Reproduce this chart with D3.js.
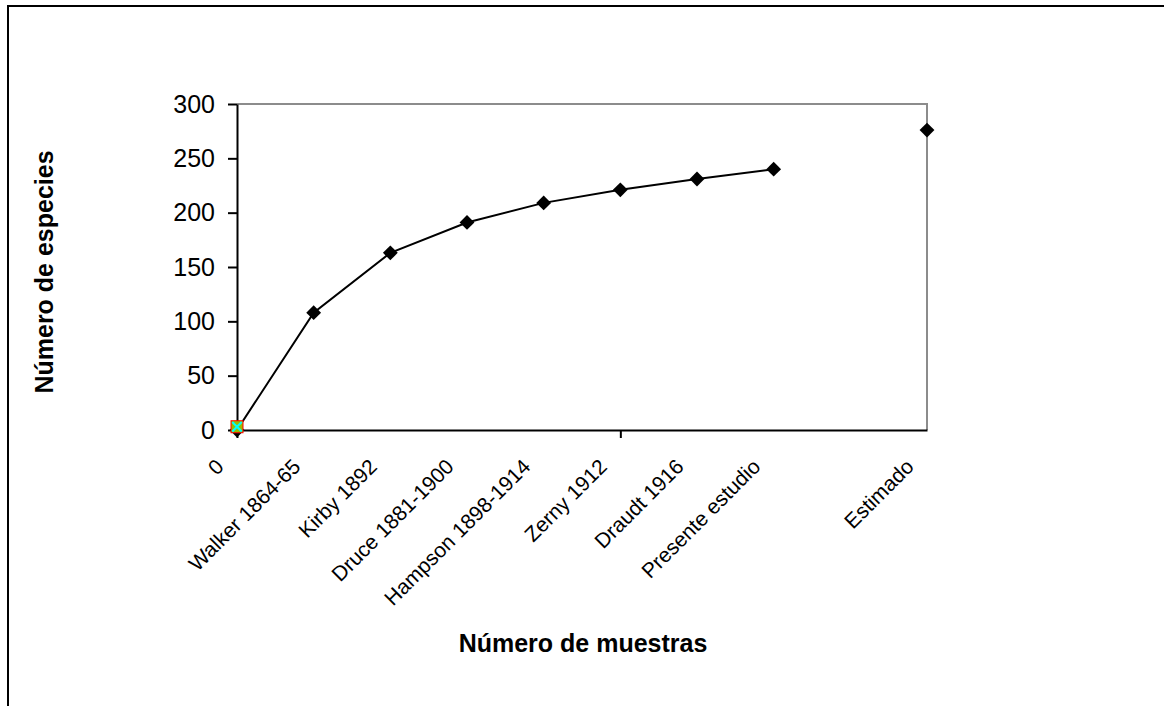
<!DOCTYPE html>
<html>
<head>
<meta charset="utf-8">
<script src="https://cdn.jsdelivr.net/npm/d3@7"></script>
<style>
  html, body { margin: 0; padding: 0; background: #fff; }
  svg { display: block; font-family: "Liberation Sans", Arial, sans-serif; }
</style>
</head>
<body>
<svg id="chart" width="1164" height="706"></svg>
<script>
// ---------------------------------------------------------
// Curva de acumulación de especies
// ---------------------------------------------------------

// categories along the x axis (numeric position + label)
const xPositions = [0, 1, 2, 3, 4, 5, 6, 7, 9];
const xLabels = ["0", "Walker 1864-65", "Kirby 1892", "Druce 1881-1900",
  "Hampson 1898-1914", "Zerny 1912", "Draudt 1916", "Presente estudio", "Estimado"];

// main series (connected)
const seriesX = [0, 1, 2, 3, 4, 5, 6, 7];
const seriesY = [0, 108, 163, 191, 209, 221, 231, 240];

// estimate (single marker)
const estX = [9];
const estY = [276];

// other series only drawn at the origin
const squareX = [0];
const squareY = [3];
const crossX = [0];
const crossY = [3];

const yTicks = [0, 50, 100, 150, 200, 250, 300];

const svg = d3.select("#chart");

// outer chart frame (runs past the picture edges)
svg.append("rect")
  .attr("x", 8).attr("y", 6)
  .attr("width", 1200).attr("height", 760)
  .attr("fill", "none")
  .attr("stroke", "#000")
  .attr("stroke-width", 2);

const plot = { left: 237, right: 927, top: 104, bottom: 430 };

const x = d3.scaleLinear().domain([0, 9]).range([plot.left, plot.right]);
const y = d3.scaleLinear().domain([0, 300]).range([plot.bottom, plot.top]);

// plot area border (grey top/right)
svg.append("path")
  .attr("d", `M${plot.left},${plot.top}H${plot.right}V${plot.bottom}`)
  .attr("fill", "none")
  .attr("stroke", "#8c8c8c")
  .attr("stroke-width", 2);

// y axis
const yAxis = svg.append("g")
  .attr("transform", `translate(${plot.left},0)`)
  .call(d3.axisLeft(y).tickValues(yTicks).tickSize(9).tickSizeOuter(0).tickPadding(13));
yAxis.select(".domain").attr("stroke", "#000").attr("stroke-width", 2);
yAxis.selectAll(".tick line").attr("stroke", "#000").attr("stroke-width", 2);
yAxis.selectAll("text")
  .style("font-size", "25px")
  .style("font-family", "Liberation Sans, Arial, sans-serif")
  .attr("fill", "#000");

// x axis
const xAxis = svg.append("g")
  .attr("transform", `translate(0,${plot.bottom})`)
  .call(d3.axisBottom(x).tickValues([0, 5]).tickFormat("").tickSize(8).tickSizeOuter(0));
xAxis.select(".domain").attr("stroke", "#000").attr("stroke-width", 2);
xAxis.selectAll(".tick line").attr("stroke", "#000").attr("stroke-width", 2);

// rotated category labels
svg.append("g")
  .selectAll("text")
  .data(xLabels)
  .enter()
  .append("text")
  .attr("transform", (d, i) => `translate(${x(xPositions[i]) - 12},${plot.bottom + 38}) rotate(-45)`)
  .attr("text-anchor", "end")
  .style("font-size", "21px")
  .attr("fill", "#000")
  .text(d => d);

// line
const line = d3.line()
  .x((d, i) => x(seriesX[i]))
  .y(d => y(d));

svg.append("path")
  .datum(seriesY)
  .attr("d", line)
  .attr("fill", "none")
  .attr("stroke", "#000")
  .attr("stroke-width", 2);

const diamond = d3.symbol().type(d3.symbolDiamond2).size(140);

// diamonds on main series + estimate
svg.append("g")
  .selectAll("path")
  .data(seriesY.map((v, i) => [seriesX[i], v]).concat(estY.map((v, i) => [estX[i], v])))
  .enter()
  .append("path")
  .attr("d", diamond)
  .attr("transform", d => `translate(${x(d[0])},${y(d[1])})`)
  .attr("fill", "#000");

// coloured markers at origin
svg.append("g")
  .selectAll("rect")
  .data(squareY.map((v, i) => [squareX[i], v]))
  .enter()
  .append("rect")
  .attr("x", d => x(d[0]) - 6)
  .attr("y", d => y(d[1]) - 6)
  .attr("width", 12).attr("height", 12)
  .attr("fill", "#99bb00")
  .attr("stroke", "#ff0000")
  .attr("stroke-width", 1);

const cross = d3.symbol().type(d3.symbolX).size(60);
svg.append("g")
  .selectAll("path")
  .data(crossY.map((v, i) => [crossX[i], v]))
  .enter()
  .append("path")
  .attr("d", cross)
  .attr("transform", d => `translate(${x(d[0])},${y(d[1])})`)
  .attr("fill", "none")
  .attr("stroke", "#00ffff")
  .attr("stroke-width", 2);

// axis titles
svg.append("text")
  .attr("x", 583).attr("y", 652)
  .attr("text-anchor", "middle")
  .style("font-size", "25px")
  .style("font-weight", "bold")
  .text("Número de muestras");

svg.append("text")
  .attr("transform", "translate(53,272) rotate(-90)")
  .attr("text-anchor", "middle")
  .style("font-size", "25px")
  .style("font-weight", "bold")
  .text("Número de especies");
</script>
</body>
</html>
